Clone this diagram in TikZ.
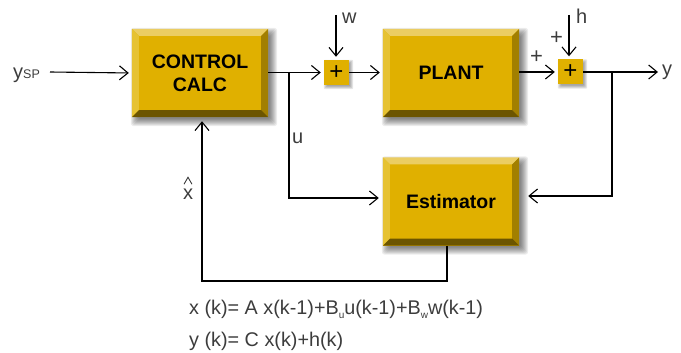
\documentclass[tikz,border=0pt]{standalone}
\usepackage{fontspec}
\setmainfont{Liberation Sans}
\usetikzlibrary{arrows.meta,backgrounds,calc}
\definecolor{gface}{HTML}{E0B000}
\definecolor{bevtopc}{HTML}{EBCD62}
\definecolor{bevleftc}{HTML}{E6C232}
\definecolor{bevrightc}{HTML}{A27F00}
\definecolor{bevbotc}{HTML}{6C5500}
\definecolor{lblgray}{HTML}{3C3C3C}
\tikzset{
  blk/.style={rectangle, minimum width=136pt, minimum height=88pt, fill=gface, inner sep=0pt,
    font=\fontsize{19.5}{23}\selectfont\bfseries, align=center, text=black},
  sumbox/.style={rectangle, minimum size=25pt, fill=gface, inner sep=0pt,
    font=\fontsize{24}{24}\selectfont},
  conn/.style={line width=1.1pt, -{Straight Barb[length=8.5pt,width=14pt,line width=1.1pt]}},
  wire/.style={line width=1.1pt},
  lbl/.style={text=lblgray, font=\fontsize{20}{20}\selectfont, inner sep=0pt},
  eqn/.style={text=lblgray, font=\fontsize{19.8}{20}\selectfont, inner sep=0pt},
  hatmark/.style={draw=lblgray, line width=0.9pt},
}
\newcommand\bevelit[1]{%
  \fill[bevtopc] (#1.north west) -- (#1.north east) -- ($(#1.north east)+(-7,7)$) -- ($(#1.north west)+(7,7)$) -- cycle;
  \fill[bevleftc] (#1.north west) -- ($(#1.north west)+(7,7)$) -- ($(#1.south west)+(7,-7)$) -- (#1.south west) -- cycle;
  \fill[bevrightc] (#1.north east) -- (#1.south east) -- ($(#1.south east)+(-7,-7)$) -- ($(#1.north east)+(-7,7)$) -- cycle;
  \fill[bevbotc] (#1.south west) -- (#1.south east) -- ($(#1.south east)+(-7,-7)$) -- ($(#1.south west)+(7,-7)$) -- cycle;
}
\newcommand\bshadow[1]{%
  \foreach \e in {-2,...,5}
    \fill[black,opacity=0.075,rounded corners=3pt] ($(#1.north west)+(4-\e,4-\e)$) rectangle ($(#1.south east)+(4+\e,4+\e)$);
}
\newcommand\sshadow[1]{%
  \foreach \e in {-1,...,2}
    \fill[black,opacity=0.1,rounded corners=1pt] ($(#1.north west)+(2-\e,2-\e)$) rectangle ($(#1.south east)+(2+\e,2+\e)$);
}
\begin{document}
\begin{tikzpicture}[x=1pt,y=-1pt]
\useasboundingbox (0,0) rectangle (681,353);
% blocks
\node[blk] (cc) at (200,73) {CONTROL\\CALC};
\node[blk] (plant) at (451,73) {PLANT};
\node[blk] (est) at (451,201.5) {Estimator};
\node[sumbox] (s1) at (336.5,72.5) {+};
\node[sumbox] (s2) at (570.5,72) {+};
\bevelit{cc}
\bevelit{plant}
\bevelit{est}
\begin{scope}[on background layer]
  \bshadow{cc}
  \bshadow{plant}
  \bshadow{est}
  \sshadow{s1}
  \sshadow{s2}
\end{scope}
% coordinates
\coordinate (ysp) at (50,72);
\coordinate (yout) at (658,72);
\coordinate (wtop) at (336,15);
\coordinate (htop) at (569,15);
\coordinate (ubr) at (289,72);
\coordinate (ybr) at (612,72);
\coordinate (fbl) at (202,281);
% connectors
\draw[conn, shorten >=3pt] (ysp) -- (cc.west);
\draw[conn, shorten >=3pt] (cc.east |- s1.west) -- (s1.west);
\draw[conn, shorten >=3pt] (s1.east) -- (s1.east -| plant.west);
\draw[conn, shorten >=3pt] (plant.east |- s2.west) -- (s2.west);
\draw[conn] (s2.east) -- (yout);
\draw[conn, shorten >=3pt] (wtop) -- (wtop |- s1.north);
\draw[conn, shorten >=3pt] (htop) -- (htop |- s2.north);
\draw[conn, shorten >=4pt] (ubr) |- ([yshift=3.5pt]est.west);
\draw[conn, shorten >=9pt] (ybr) |- ([yshift=5.5pt]est.east);
\draw[conn, shorten >=4pt] ([xshift=-4pt]est.south) |- (fbl) -- (fbl |- cc.south);
% labels
\node[lbl, anchor=base west] (lysp) at (13,79) {y{\fontsize{12.5}{12}\selectfont SP}};
\node[lbl, anchor=base west] (lu) at (292,143) {u};
\node[lbl, anchor=base west] (lw) at (342,24) {w};
\node[lbl, anchor=base west] (lh) at (576,24) {h};
\node[lbl, anchor=base west] (ly) at (662,76) {y};
\node[lbl, font=\fontsize{22}{22}\selectfont] (lp1) at (556.5,38.5) {+};
\node[lbl, font=\fontsize{22}{22}\selectfont] (lp2) at (536.5,57.5) {+};
\node[lbl, anchor=base] (lx) at (188,200) {x};
\draw[hatmark] ($(lx.north)+(-4,-5)$) -- ($(lx.north)+(0,-12)$) -- ($(lx.north)+(4,-5)$);
% equations
\node[eqn, anchor=base west] (eq1) at (189,314) {x (k)= A x(k-1)+B\raisebox{-4pt}{\fontsize{10}{10}\selectfont u}u(k-1)+B\raisebox{-4pt}{\fontsize{10}{10}\selectfont w}w(k-1)};
\node[eqn, anchor=base west] (eq2) at (189,346) {y (k)= C x(k)+h(k)};
\end{tikzpicture}
\end{document}
